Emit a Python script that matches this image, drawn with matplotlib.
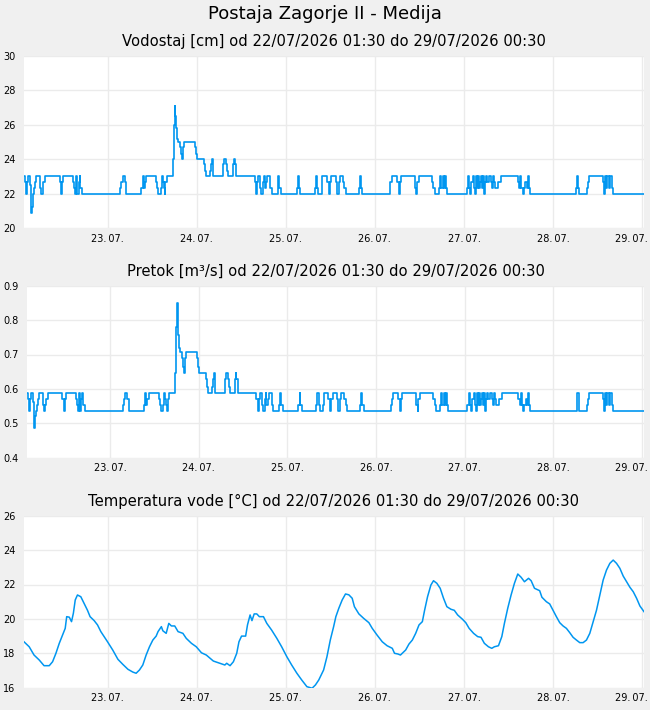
import matplotlib
matplotlib.use("Agg")
import matplotlib.pyplot as plt
import matplotlib.dates as mdates
import matplotlib.transforms as mtransforms
import numpy as np
import pandas as pd

# start of data: 22/07/2026 01:30, times below are hours after start
start = pd.Timestamp("2026-07-22 01:30")
end_h = 167.0

# vodostaj - change points (hours, cm)
lvl_h = [0, 0.25, 0.5, 0.6, 0.8, 1.2, 1.5, 1.8, 2.0, 2.2, 2.3, 2.5, 2.7, 2.9, 3.2, 4.2, 4.4, 4.6, 5.0, 5.2,
         5.6, 9.6, 9.9, 10.1, 10.3, 10.6, 13.2, 13.5, 13.8, 14.1, 14.3, 14.7, 15.0, 15.2, 15.6, 25.9, 26.2,
         26.6, 27.2, 27.5, 31.6, 32.0, 32.3, 32.6, 32.9, 35.6, 35.9, 36.2, 36.9, 37.2, 37.4, 37.7, 37.9,
         38.1, 38.5, 40.0, 40.3, 40.6, 40.8, 40.9, 41.2, 41.5, 41.9, 42.2, 42.5, 42.7, 43.0, 46.1, 46.3,
         46.6, 48.4, 48.7, 49.0, 50.2, 50.4, 50.7, 50.8, 50.9, 53.7, 53.9, 54.5, 54.7, 55.0, 56.2, 56.5,
         56.7, 57.0, 57.2, 62.1, 62.5, 62.7, 63.0, 63.7, 63.9, 64.3, 64.6, 64.8, 65.1, 65.5, 66.2, 66.7,
         68.3, 68.5, 68.8, 69.2, 73.4, 73.8, 74.0, 74.3, 78.3, 78.6, 78.9, 79.2, 80.2, 80.4, 81.6, 82.1,
         82.3, 82.7, 84.0, 84.3, 84.8, 85.0, 85.9, 86.3, 86.7, 90.2, 90.4, 90.7, 91.1, 98.5, 98.7, 99.1,
         100.5, 100.9, 101.2, 101.5, 105.3, 105.7, 105.9, 106.3, 109.9, 110.3, 110.6, 111.7, 112.1, 112.4,
         112.8, 113.1, 113.3, 113.6, 113.9, 119.2, 119.6, 119.8, 120.1, 120.4, 121.0, 121.3, 121.6, 121.8,
         122.1, 122.4, 122.6, 122.9, 123.2, 123.4, 123.7, 124.0, 124.3, 124.5, 124.8, 125.2, 125.8, 126.1,
         126.3, 126.7, 126.9, 127.3, 127.7, 128.5, 133.0, 133.4, 133.6, 133.9, 134.3, 134.6, 135.0, 135.4,
         135.7, 136.0, 136.2, 148.8, 149.0, 149.3, 149.5, 151.7, 151.9, 152.2, 156.0, 156.3, 156.5, 156.8,
         157.1, 157.5, 157.9, 158.3, 158.7]
lvl_v = [23, 22.7, 22.3, 22, 22.7, 23, 22.5, 21.5, 20.9, 21.2, 21.7, 22, 22.3, 22.7, 23, 22.7, 22.3, 22, 22.3, 22.7,
         23, 22.7, 22.3, 22, 22.7, 23, 22.7, 22.3, 22, 23, 22, 22.7, 23, 22.3, 22, 22.3, 22.7,
         23, 22.7, 22, 22.3, 23, 22.3, 22.7, 23, 22.7, 22.3, 22, 22.3, 23, 22.7, 22.3, 22,
         22.7, 23, 24, 26, 27.1, 26.5, 25.8, 25.2, 25, 24.7, 24.3, 24, 24.7, 25, 24.7, 24.3,
         24, 23.7, 23.3, 23, 23.3, 23.7, 24, 23.5, 23, 23.7, 24, 23.7, 23.3, 23, 23.7, 24,
         23.7, 23.3, 23, 22.7, 22, 22.7, 23, 22.3, 22, 22.7, 23, 22.3, 22.7, 23, 22.3, 22,
         22.3, 23, 22.3, 22, 22.3, 23, 22.3, 22, 22.3, 23, 22.3, 22, 22.3, 23, 22.7, 22,
         22.7, 23, 22.7, 22, 22.7, 23, 22.7, 22.3, 22, 22.3, 23, 22.3, 22, 22.3, 22.7, 23,
         22.7, 22, 22.7, 23, 22.3, 22, 22.7, 23, 22.7, 22.3, 22, 22.3, 23, 22.3,
         23, 22.3, 23, 22.3, 22, 22.3, 23, 22.3, 22, 22.7, 23, 22.3, 22, 23,
         22.3, 23, 22.3, 22.7, 23, 22.3, 23, 22, 22.7, 23, 22.7, 23, 22.7, 22.3,
         23, 22.7, 22.3, 22.3, 22.7, 23, 22.7, 22.3, 23, 22.3, 22, 22.3, 22.7, 22.3,
         23, 22.3, 22, 22.3, 23, 22.3, 22, 22.3, 22.7, 23, 22.7, 22, 23, 22.3,
         23, 22.3, 23, 22.3, 22]

# pretok for each vodostaj level (m3/s)
pretok_at = {20.9: 0.485, 21.2: 0.50, 21.5: 0.51, 21.7: 0.522, 22: 0.537, 22.3: 0.553, 22.5: 0.562,
             22.7: 0.572, 23: 0.589, 23.3: 0.606, 23.5: 0.617, 23.7: 0.628, 24: 0.647, 24.3: 0.665,
             24.7: 0.69, 25: 0.708, 25.2: 0.72, 25.8: 0.757, 26: 0.78, 26.5: 0.81, 27.1: 0.849}

# temperatura vode (hours, degC)
tmp_h = [0, 1.4, 2.7, 4.1, 5.4, 6.8, 7.7, 8.6, 9.5, 10.4, 11.1, 11.5, 12.2, 12.8, 13.3, 13.8, 14.4, 15.3,
         16.2, 17.1, 17.8, 18.9, 19.8, 20.7, 21.6, 22.5, 23.9, 25.3, 26.6, 28.0, 29.3, 30.2, 31.1, 32.0,
         32.9, 33.8, 34.7, 35.6, 36.1, 37.0, 37.4, 38.3, 39.0, 39.7, 40.6, 41.5, 42.8, 43.7, 45.1, 46.4,
         47.8, 49.1, 51.0, 52.8, 54.1, 54.6, 55.5, 56.4, 57.3, 57.9, 58.6, 59.7, 60.2, 60.9, 61.4, 62.0,
         62.7, 63.4, 64.5, 65.4, 66.7, 68.1, 69.4, 70.8, 72.1, 73.5, 74.8, 76.2, 77.6, 78.5, 79.4, 80.7,
         81.6, 82.5, 83.4, 84.0, 84.8, 85.7, 86.6, 87.5, 88.4, 89.0, 90.2, 91.5, 92.9, 93.8, 95.1, 96.5,
         97.8, 99.2, 99.8, 100.7, 101.4, 102.8, 103.7, 104.6, 105.5, 106.4, 107.3, 107.9, 108.7, 109.6,
         110.3, 111.2, 112.1, 113.0, 113.9, 115.0, 115.9, 116.8, 118.1, 119.0, 119.9, 121.1, 122.2, 123.1,
         124.0, 125.1, 126.0, 126.7, 127.8, 128.7, 129.4, 130.3, 131.2, 132.1, 133.0, 133.9, 134.8, 135.9,
         136.6, 137.5, 138.9, 139.5, 140.7, 141.6, 142.5, 143.4, 144.3, 145.2, 146.1, 147.0, 147.9, 148.8,
         149.7, 150.6, 151.5, 152.4, 153.3, 154.2, 155.1, 156.0, 156.9, 157.8, 158.7, 159.6, 160.5, 161.4,
         162.3, 163.2, 164.1, 165.0, 165.9, 167.0]
tmp_v = [18.67, 18.38, 17.9, 17.61, 17.28, 17.28, 17.51, 18.0, 18.58, 19.06, 19.45, 20.13, 20.1, 19.84, 20.33, 21.1, 21.39, 21.29,
         20.9, 20.5, 20.13, 19.9, 19.65, 19.26, 18.97, 18.67, 18.19, 17.65, 17.36, 17.07, 16.91, 16.84, 17.03, 17.32,
         17.9, 18.38, 18.77, 19.0, 19.26, 19.55, 19.31, 19.16, 19.74, 19.59, 19.59, 19.26, 19.16, 18.87, 18.58, 18.38,
         18.03, 17.9, 17.55, 17.42, 17.32, 17.42, 17.28, 17.51, 18.0, 18.67, 19.0, 19.0, 19.65, 20.23, 19.9, 20.29,
         20.29, 20.13, 20.13, 19.74, 19.35, 18.87, 18.38, 17.8, 17.32, 16.84, 16.45, 16.06, 15.97, 16.16, 16.45, 17.03,
         17.8, 18.77, 19.55, 20.13, 20.62, 21.1, 21.45, 21.4, 21.2, 20.71, 20.29, 20.03, 19.78, 19.45, 19.06, 18.67,
         18.44, 18.29, 18.0, 17.96, 17.9, 18.19, 18.54, 18.77, 19.16, 19.65, 19.84, 20.5, 21.29, 21.97,
         22.22, 22.07, 21.78, 21.2, 20.71, 20.56, 20.5, 20.23, 19.98, 19.78, 19.45, 19.16, 18.97, 18.93,
         18.58, 18.38, 18.29, 18.38, 18.44, 18.97, 19.74, 20.62, 21.39, 22.07, 22.61, 22.42, 22.16, 22.36,
         22.22, 21.78, 21.64, 21.26, 21.0, 20.87, 20.5, 20.13, 19.78, 19.59, 19.45, 19.2, 18.93, 18.77,
         18.62, 18.62, 18.77, 19.16, 19.84, 20.5, 21.39, 22.26, 22.84, 23.23, 23.42, 23.23, 22.94, 22.49,
         22.16, 21.84, 21.58, 21.2, 20.75, 20.42]

# day ticks
day_ticks = ["2026-07-23", "2026-07-24", "2026-07-25", "2026-07-26", "2026-07-27", "2026-07-28", "2026-07-29"]


def to_time(hours):
    return start + pd.to_timedelta(np.asarray(hours, dtype=float), unit="h")


# last value held to the end of the period
lh = list(lvl_h) + [end_h]
lv = list(lvl_v) + [lvl_v[-1]]
pv = [pretok_at[v] for v in lv]

ticks = pd.to_datetime(day_ticks)
tick_lbl = [t.strftime("%d.\u2009%m.") for t in ticks]

blue = "#0096f0"
plt.rcParams["font.family"] = ["DejaVu Sans"]
fig = plt.figure(figsize=(6.5, 7.1), dpi=100, facecolor="#f0f0f0")
fig.text(0.5, 1 - 14 / 710, "Postaja Zagorje II - Medija", ha="center", va="center", fontsize=13)

panels = [
    ([24, 228], "Vodostaj [cm] od 22/07/2026 01:30 do 29/07/2026 00:30", (20, 30), np.arange(20, 31, 2), "%d"),
    ([27, 457.7], "Pretok [m³/s] od 22/07/2026 01:30 do 29/07/2026 00:30", (0.4, 0.9), np.arange(0.4, 0.91, 0.1), "%.1f"),
    ([24, 687.7], "Temperatura vode [°C] od 22/07/2026 01:30 do 29/07/2026 00:30", (16, 26), np.arange(16, 27, 2), "%d"),
]

axes = []
for (left, bottom), title, ylim, yt, fmt in panels:
    ax = fig.add_axes([left / 650, 1 - bottom / 710, (644 - left) / 650, 172 / 710])
    ax.set_facecolor("white")
    for s in ax.spines.values():
        s.set_visible(False)
    ax.set_ylim(*ylim)
    ax.set_yticks(yt)
    ax.set_yticklabels([fmt % v for v in yt])
    ax.set_xlim(to_time([0])[0], to_time([end_h])[0])
    ax.set_xticks(ticks)
    ax.set_xticklabels(tick_lbl)
    ax.tick_params(length=0, labelsize=7, pad=4)
    ax.tick_params(axis="y", pad=6)
    # last day label pushed left so it stays inside the figure
    last = ax.get_xticklabels()[-1]
    last.set_horizontalalignment("right")
    last.set_transform(last.get_transform() + mtransforms.ScaledTranslation(6 / 100, 0, fig.dpi_scale_trans))
    ax.grid(True, color="#ebebeb", lw=1)
    ax.set_axisbelow(True)
    ax.set_title(title, fontsize=10.6, pad=7)
    axes.append(ax)

axes[0].step(to_time(lh), lv, where="post", color=blue, lw=1.2)
axes[1].step(to_time(lh), pv, where="post", color=blue, lw=1.2)
axes[2].plot(to_time(tmp_h), tmp_v, color=blue, lw=1.1)

fig.savefig("out.png", dpi=100, facecolor=fig.get_facecolor())
